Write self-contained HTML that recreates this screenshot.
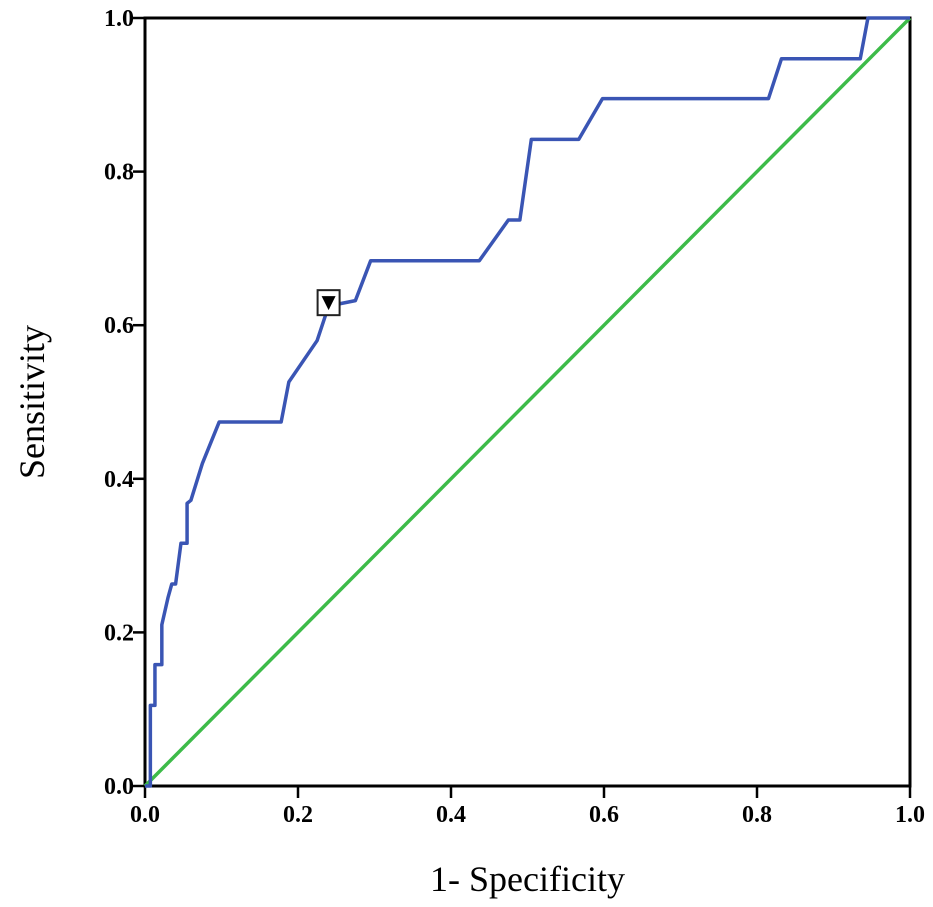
<!DOCTYPE html>
<html><head><meta charset="utf-8"><style>
body{margin:0;background:#fff;}
svg text{font-family:"Liberation Serif",serif;}
</style></head><body>
<svg id="chart" width="933" height="902" xmlns="http://www.w3.org/2000/svg"></svg>
<script>
const fpr=[0,0.007,0.007,0.013,0.013,0.022,0.022,0.03,0.035,0.04,0.047,0.055,0.055,0.06,0.075,0.097,0.178,0.188,0.225,0.24,0.275,0.295,0.437,0.475,0.49,0.505,0.567,0.598,0.815,0.832,0.935,0.945,1];
const tpr=[0,0,0.105,0.105,0.158,0.158,0.21,0.245,0.263,0.263,0.316,0.316,0.368,0.372,0.42,0.474,0.474,0.526,0.58,0.625,0.632,0.684,0.684,0.737,0.737,0.842,0.842,0.895,0.895,0.947,0.947,1,1];
const refX=[0,1];
const refY=[0,1];
const markerPoint=[0.24,0.63];
const ticks=[0,0.2,0.4,0.6,0.8,1.0];
const tickLabels=["0.0","0.2","0.4","0.6","0.8","1.0"];
const NS="http://www.w3.org/2000/svg";
const svg=document.getElementById('chart');
const X0=145,X1=910,Y0=786,Y1=18;
const sx=v=>X0+v*(X1-X0), sy=v=>Y0-v*(Y0-Y1);
function mk(t,a){const e=document.createElementNS(NS,t);for(const k in a)e.setAttribute(k,a[k]);svg.appendChild(e);return e;}
let e=mk('rect',{x:X0,y:Y1,width:X1-X0,height:Y0-Y1,fill:'none',stroke:'#000','stroke-width':3});


ticks.forEach((t,i)=>{
 let l=mk('line',{x1:X0-12,x2:X0,y1:sy(t),y2:sy(t),stroke:'#000','stroke-width':2.5});
 
 
 let tx=mk('text',{x:X0-11,y:sy(t)+8,'text-anchor':'end','font-size':24,'font-weight':'bold'});tx.textContent=tickLabels[i];
 
 
 let l2=mk('line',{x1:sx(t),x2:sx(t),y1:Y0,y2:Y0+12,stroke:'#000','stroke-width':2.5});
 
 
 let t2=mk('text',{x:sx(t),y:Y0+36,'text-anchor':'middle','font-size':24,'font-weight':'bold'});t2.textContent=tickLabels[i];
 
 
});
let ref=mk('polyline',{points:refX.map((v,i)=>sx(v)+','+sy(refY[i])).join(' '),fill:'none',stroke:'#3dbb49','stroke-width':3.5});


let roc=mk('polyline',{points:fpr.map((v,i)=>sx(v)+','+sy(tpr[i])).join(' '),fill:'none',stroke:'#3a55b4','stroke-width':3.5,'stroke-linejoin':'round'});


const mx=sx(markerPoint[0]),my=sy(markerPoint[1]);
let mb=mk('rect',{x:mx-11,y:my-12,width:22,height:25,fill:'#fff',stroke:'#222','stroke-width':2});


let tri=mk('polygon',{points:`${mx-7},${my-6} ${mx+7},${my-6} ${mx},${my+8}`,fill:'#000'});


let xt=mk('text',{x:(X0+X1)/2,y:891,'text-anchor':'middle','font-size':36});xt.textContent='1- Specificity';


let yt=mk('text',{x:44,y:(Y0+Y1)/2,'text-anchor':'middle','font-size':36,transform:`rotate(-90 44 ${(Y0+Y1)/2})`});yt.textContent='Sensitivity';


</script>
</body></html>
